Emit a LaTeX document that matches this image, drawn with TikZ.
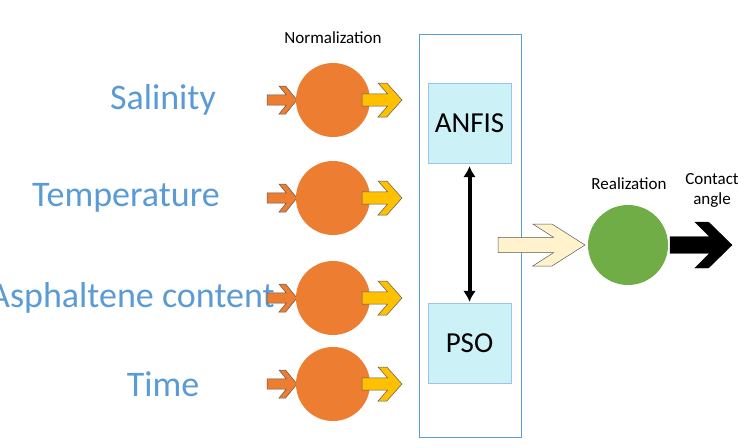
\documentclass[tikz,border=0pt]{standalone}
\usepackage{fontspec}
\setmainfont{Carlito}
\usetikzlibrary{arrows.meta}
\definecolor{lblue}{HTML}{5B9BD5}
\definecolor{orng}{HTML}{ED7D31}
\definecolor{yel}{HTML}{FFC000}
\definecolor{grn}{HTML}{70AD47}
\definecolor{cyanb}{HTML}{CCF2F8}
\definecolor{cream}{HTML}{FFF2CC}
\newcommand{\chev}[5]{% x y len halfheight style
\draw[#5] (#1,#2-0.36*#4) -- (#1+0.64*#3,#2-0.36*#4) -- (#1+0.4*#3,#2-#4) -- (#1+0.62*#3,#2-#4) -- (#1+#3,#2) -- (#1+0.62*#3,#2+#4) -- (#1+0.4*#3,#2+#4) -- (#1+0.64*#3,#2+0.36*#4) -- (#1,#2+0.36*#4) -- cycle;}
\begin{document}
\begin{tikzpicture}[x=1pt,y=-1pt,
 lab/.style={text=lblue,font=\fontsize{36}{40}\selectfont},
 small/.style={font=\fontsize{17}{20}\selectfont},
 inbox/.style={draw=lblue!60,fill=cyanb,minimum width=83pt,minimum height=80pt,font=\fontsize{29}{32}\selectfont}]
\useasboundingbox (0,0) rectangle (746,447);
\node[lab] (s1) at (163,100) {Salinity};
\node[lab] (s2) at (126,198) {Temperature};
\node[lab] (s3) at (132,298) {Asphaltene content};
\node[lab] (s4) at (163,384) {Time};
\node[small] (norm) at (333,38) {Normalization};
\foreach \y [count=\i] in {100,198,298,384}{
 \chev{267}{\y}{30}{14}{fill=orng,draw=gray!70!black,line width=0.5pt}
 \node[circle,fill=orng,minimum size=74pt,inner sep=0] (c\i) at (333,\y) {};
 \chev{362}{\y}{40}{17}{fill=yel,draw=gray!70!black,line width=0.5pt}
}
\node[draw=lblue,line width=1pt,minimum width=102pt,minimum height=403pt,inner sep=0] (big) at (470,235.5) {};
\node[inbox] (anfis) at (469.5,123) {ANFIS};
\node[inbox] (pso) at (469.5,343) {PSO};
\draw[line width=4pt,{Latex[length=11pt,width=13pt]}-{Latex[length=11pt,width=13pt]}] (anfis.south) ++(0,3) coordinate (a1) (pso.north) ++(0,-1) coordinate (p1) (a1) -- (p1);
\chev{498}{245}{87}{21}{fill=cream,draw=gray!70!black,line width=0.5pt}
\node[circle,fill=grn,minimum size=80pt,inner sep=0] (g) at (628,245) {};
\node[small] (real) at (629,184) {Realization};
\node[small,align=center] (ca) at (712,190) {Contact\\angle};
\chev{670}{245}{62}{23}{fill=black,draw=black}
\end{tikzpicture}
\end{document}
